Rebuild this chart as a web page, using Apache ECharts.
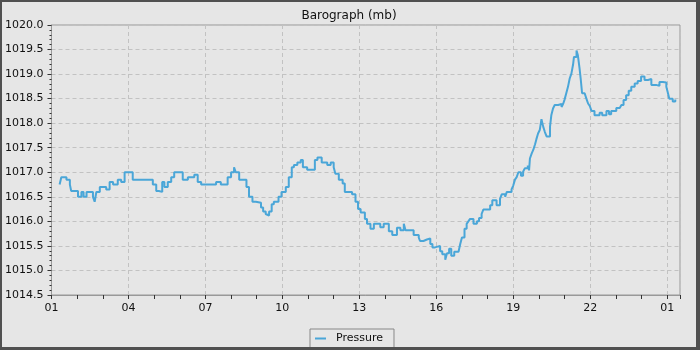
<!DOCTYPE html>
<html>
<head>
<meta charset="utf-8">
<script src="https://cdn.jsdelivr.net/npm/echarts@6/dist/echarts.min.js"></script>
<style>
  html, body { margin: 0; padding: 0; }
  #frame {
    width: 700px; height: 350px; box-sizing: border-box;
    background: #505050;
    border-left: 2px solid #505050; border-top: 2px solid #505050;
    border-right: 4px solid #505050; border-bottom: 3px solid #505050;
  }
  #main { width: 694px; height: 345px; background: #e6e6e6; }
</style>
</head>
<body>
<div id="frame"><div id="main"></div></div>
<script>
  // minutes after 01:00
  const minutes = [19, 23, 35, 43, 46, 62, 70, 75, 82, 97, 101, 105, 113, 128, 136, 144, 155, 163, 171, 190,
    214, 237, 245, 251, 259, 264, 272, 280, 287, 307, 319, 334, 342, 350, 385, 396, 412, 420, 427, 431,
    439, 456, 462, 470, 478, 490, 495, 501, 505, 509, 515, 520, 531, 538, 548, 555, 562, 567, 575, 583,
    588, 598, 616, 622, 632, 645, 653, 660, 664, 672, 681, 686, 703, 711, 717, 723, 733, 738, 746, 754,
    769, 777, 789, 797, 808, 816, 824, 828, 847, 859, 862, 870, 878, 886, 891, 897, 909, 914, 921, 925,
    930, 935, 942, 952, 956, 960, 966, 971, 975, 979, 987, 995, 1000, 1006, 1010, 1026, 1031, 1041, 1049, 1053,
    1061, 1065, 1076, 1080, 1084, 1088, 1092, 1098, 1103, 1107, 1114, 1117, 1119, 1123, 1127, 1131, 1134, 1138, 1142, 1146,
    1150, 1154, 1158, 1166, 1169, 1173, 1177, 1185, 1193, 1197, 1200, 1204, 1208, 1212, 1216, 1220, 1222, 1228, 1231, 1235,
    1238, 1241, 1247, 1251, 1255, 1259, 1263, 1270, 1282, 1288, 1298, 1304, 1309, 1321, 1329, 1333, 1338, 1344, 1350, 1356,
    1364, 1371, 1379, 1387, 1395, 1403, 1414, 1422, 1430, 1434, 1438, 1441, 1445, 1453, 1459]
  // mb
  const pressure = [1016.75, 1016.9, 1016.85, 1016.75, 1016.62, 1016.5, 1016.6, 1016.5, 1016.6, 1016.5, 1016.4, 1016.6, 1016.7, 1016.65, 1016.8, 1016.75, 1016.85, 1016.8, 1017.0, 1016.85,
    1016.85, 1016.75, 1016.62, 1016.6, 1016.8, 1016.7, 1016.8, 1016.9, 1017.0, 1016.85, 1016.9, 1016.95, 1016.8, 1016.75, 1016.8, 1016.75, 1016.9, 1017.0, 1017.1, 1017.0,
    1016.85, 1016.7, 1016.5, 1016.4, 1016.38, 1016.28, 1016.2, 1016.15, 1016.12, 1016.2, 1016.35, 1016.4, 1016.5, 1016.6, 1016.7, 1016.9, 1017.1, 1017.15, 1017.2, 1017.25,
    1017.1, 1017.05, 1017.25, 1017.3, 1017.2, 1017.15, 1017.2, 1017.1, 1016.97, 1016.85, 1016.77, 1016.6, 1016.55, 1016.4, 1016.25, 1016.18, 1016.05, 1015.95, 1015.85, 1015.95,
    1015.88, 1015.95, 1015.8, 1015.72, 1015.87, 1015.82, 1015.95, 1015.82, 1015.72, 1015.67, 1015.6, 1015.63, 1015.65, 1015.54, 1015.47, 1015.5, 1015.39, 1015.33, 1015.22, 1015.35,
    1015.44, 1015.3, 1015.38, 1015.42, 1015.54, 1015.67, 1015.85, 1015.95, 1016.0, 1016.05, 1015.95, 1016.0, 1016.07, 1016.15, 1016.24, 1016.33, 1016.43, 1016.33, 1016.46, 1016.55,
    1016.5, 1016.6, 1016.65, 1016.73, 1016.85, 1016.9, 1017.0, 1016.93, 1017.01, 1017.08, 1017.14, 1017.04, 1017.28, 1017.38, 1017.46, 1017.57, 1017.67, 1017.79, 1017.86, 1018.08,
    1017.93, 1017.82, 1017.73, 1017.93, 1018.16, 1018.3, 1018.37, 1018.39, 1018.33, 1018.4, 1018.48, 1018.61, 1018.74, 1018.91, 1019.01, 1019.2, 1019.35, 1019.48, 1019.39, 1019.12,
    1018.88, 1018.61, 1018.57, 1018.5, 1018.4, 1018.35, 1018.25, 1018.16, 1018.21, 1018.16, 1018.25, 1018.18, 1018.25, 1018.31, 1018.33, 1018.37, 1018.47, 1018.57, 1018.66, 1018.74,
    1018.81, 1018.86, 1018.95, 1018.88, 1018.9, 1018.78, 1018.76, 1018.84, 1018.88, 1018.83, 1018.74, 1018.64, 1018.5, 1018.44, 1018.48]

  const font = 'DejaVu Sans'
  let myChart = echarts.init(document.getElementById('main'))
  let option = {
    animation: false,
    backgroundColor: '#e6e6e6',
    title: {
      text: 'Barograph (mb)',
      left: 'center',
      top: 3,
      textStyle: { fontFamily: font, fontSize: 12, fontWeight: 'normal', color: '#111' }
    },
    legend: {
      data: ['Pressure'],
      left: 'center',
      top: 327,
      icon: 'rect',
      itemWidth: 11,
      itemHeight: 2,
      padding: [4, 11, 4, 5],
      borderColor: '#888',
      borderWidth: 1,
      borderRadius: 0,
      textStyle: { fontFamily: font, fontSize: 11, color: '#111', padding: [0, 0, 0, 5] }
    },
    grid: {
      left: 48, right: 16, top: 23, bottom: 52,
      show: true, borderColor: '#999', borderWidth: 1, backgroundColor: 'transparent'
    },
    xAxis: {
      type: 'value',
      min: 0, max: 1470, interval: 180,
      axisLine: { lineStyle: { color: '#999' } },
      axisTick: { length: 4, lineStyle: { color: '#333' } },
      minorTick: { show: true, splitNumber: 3, length: 4, lineStyle: { color: '#333' } },
      axisLabel: {
        margin: 8, fontFamily: font, fontSize: 11, color: '#111',
        formatter: v => String((v / 60 + 1) % 24).padStart(2, '0')
      },
      splitLine: { show: true, lineStyle: { color: '#c2c2c2', type: [4, 3] } }
    },
    yAxis: {
      type: 'value',
      min: 1014.5, max: 1020, interval: 0.5,
      axisLine: { show: true, lineStyle: { color: '#999' } },
      axisTick: { show: true, length: 4, lineStyle: { color: '#333' } },
      minorTick: { show: true, splitNumber: 5, length: 2, lineStyle: { color: '#333' } },
      axisLabel: {
        margin: 8, fontFamily: font, fontSize: 11, color: '#111',
        formatter: v => v.toFixed(1)
      },
      splitLine: { show: true, lineStyle: { color: '#c2c2c2', type: [4, 3] } }
    },
    series: [
      {
        name: 'Pressure',
        type: 'line',
        step: 'end',
        showSymbol: false,
        symbol: 'none',
        color: '#4aa6d8',
        lineStyle: { width: 2 },
        data: minutes.map((m, i) => [m, pressure[i]])
      }
    ]
  }
  option && myChart.setOption(option)
</script>
</body>
</html>
